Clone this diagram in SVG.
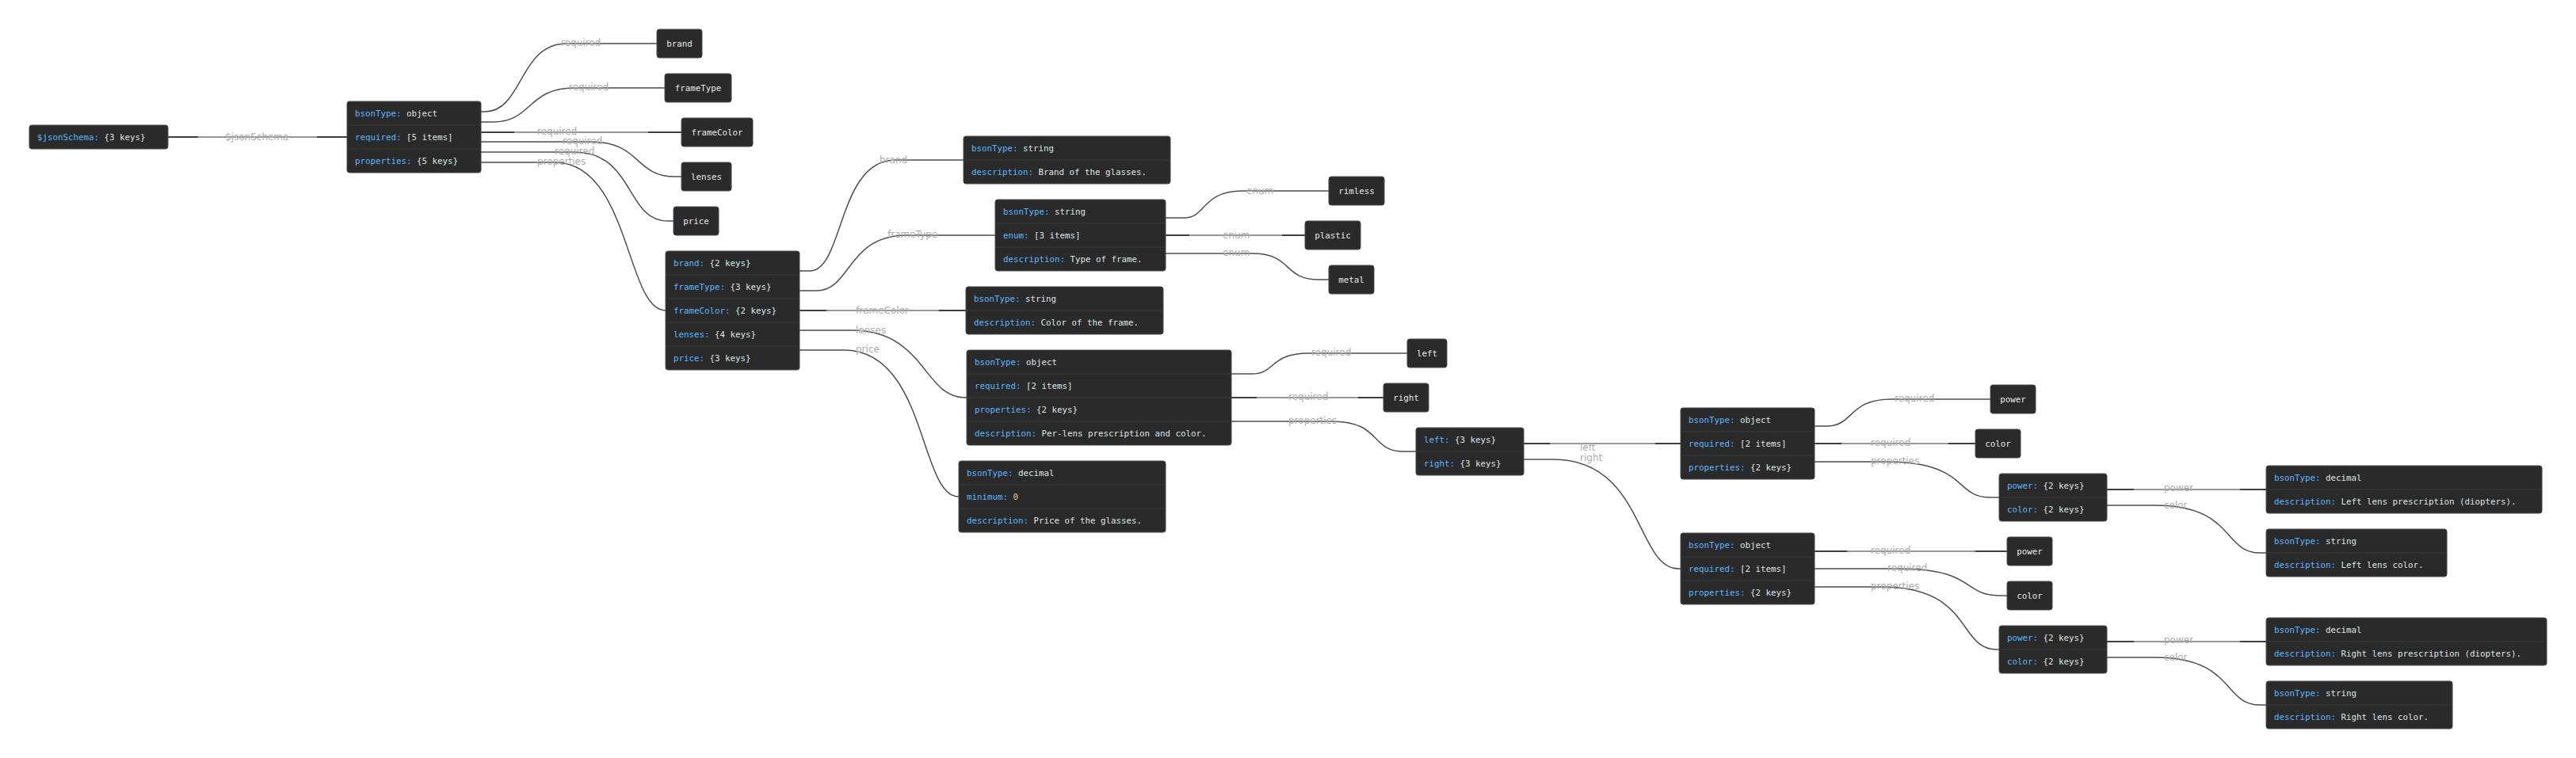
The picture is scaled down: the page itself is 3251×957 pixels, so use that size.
<svg xmlns="http://www.w3.org/2000/svg" width="3251" height="957" viewBox="0 0 3251 957">
<style>
.bg{fill:#ffffff}
.nd rect.b{fill:#2a2a2a;stroke:#4a4a4a;stroke-width:1}
.nd line{stroke:#383838;stroke-width:1}
.nd text{font-family:"DejaVu Sans Mono","Liberation Mono",monospace;font-size:10.8px;fill:#dce5e7;white-space:pre}
.nd text.c{text-anchor:middle;fill:#e8e8e8}
.k{fill:#59b8ff}
.num{fill:#e8c479}
.e{fill:none;stroke:#4f4f4f;stroke-width:1.5}
.sl{fill:none;stroke:#767676;stroke-width:1.6}
.sd{fill:none;stroke:#404040;stroke-width:2}
.lb{font-family:"DejaVu Sans","Liberation Sans",sans-serif;font-size:12px;fill:#acacac}
</style>
<rect class="bg" x="0" y="0" width="3251" height="957"/>

<g id="connectors">
  <!-- straight edges: light middle with dark ends -->
  <path class="sl" d="M212,173 H438"/><path class="sd" d="M212,173 H250 M400,173 H438"/>
  <path class="sl" d="M607,167 H860"/><path class="sd" d="M607,167 H649 M818,167 H860"/>
  <path class="sl" d="M1009,392 H1219"/><path class="sd" d="M1009,392 H1043 M1185,392 H1219"/>
  <path class="sl" d="M1471,297 H1647"/><path class="sd" d="M1471,297 H1501 M1618,297 H1647"/>
  <path class="sl" d="M1554,502 H1746"/><path class="sd" d="M1554,502 H1586 M1714,502 H1746"/>
  <path class="sl" d="M1923,560 H2121"/><path class="sd" d="M1923,560 H1956 M2089,560 H2121"/>
  <path class="sl" d="M2290,560 H2493"/><path class="sd" d="M2290,560 H2324 M2459,560 H2493"/>
  <path class="sl" d="M2290,696 H2533"/><path class="sd" d="M2290,696 H2331 M2493,696 H2533"/>
  <path class="sl" d="M2659,618 H2860"/><path class="sd" d="M2659,618 H2693 M2827,618 H2860"/>
  <path class="sl" d="M2659,810 H2860"/><path class="sd" d="M2659,810 H2693 M2827,810 H2860"/>
  <!-- curved edges -->
  <path class="e" d="M607,141 H612 C660,141 655,55 715,55 H829"/>
  <path class="e" d="M607,154 H622 C672,154 665,111 725,111 H839"/>
  <path class="e" d="M607,179 H745 C810,179 800,223 852,223 H860"/>
  <path class="e" d="M607,192 H725 C800,192 790,279 842,279 H850"/>
  <path class="e" d="M607,205 H700 C795,205 790,392 840,392"/>
  <path class="e" d="M1009,342 H1022 C1065,342 1057,202 1130,202 H1216"/>
  <path class="e" d="M1009,367 H1030 C1075,367 1068,297 1145,297 H1256"/>
  <path class="e" d="M1009,417 H1075 C1168,417 1165,502 1218,502 H1220"/>
  <path class="e" d="M1009,442 H1065 C1170,442 1160,627 1210,627"/>
  <path class="e" d="M1471,275 H1495 C1522,275 1517,241 1568,241 H1677"/>
  <path class="e" d="M1471,320 H1580 C1632,320 1618,353 1665,353 H1677"/>
  <path class="e" d="M1554,472 H1580 C1610,472 1602,446 1652,446 H1776"/>
  <path class="e" d="M1554,532 H1680 C1745,532 1728,570 1772,570 H1787"/>
  <path class="e" d="M1923,580 H1960 C2075,580 2065,718 2118,718 H2121"/>
  <path class="e" d="M2290,538 H2305 C2340,538 2332,504 2387,504 H2512"/>
  <path class="e" d="M2290,583 H2380 C2485,583 2465,628 2512,628 H2523"/>
  <path class="e" d="M2290,718 H2395 C2495,718 2475,752 2525,752 H2533"/>
  <path class="e" d="M2290,741 H2375 C2490,741 2470,820 2520,820 H2523"/>
  <path class="e" d="M2659,638 H2720 C2820,638 2805,698 2852,698 H2860"/>
  <path class="e" d="M2659,830 H2720 C2820,830 2805,890 2852,890 H2860"/>
  <!-- edge labels -->
  <text class="lb" x="284" y="176.5">$jsonSchema</text>
  <text class="lb" x="708" y="58">required</text>
  <text class="lb" x="718" y="114">required</text>
  <text class="lb" x="678" y="170">required</text>
  <text class="lb" x="710" y="182">required</text>
  <text class="lb" x="700" y="195">required</text>
  <text class="lb" x="678" y="208">properties</text>
  <text class="lb" x="1110" y="206">brand</text>
  <text class="lb" x="1120" y="300">frameType</text>
  <text class="lb" x="1080" y="396">frameColor</text>
  <text class="lb" x="1080" y="421">lenses</text>
  <text class="lb" x="1080" y="445">price</text>
  <text class="lb" x="1573" y="245">enum</text>
  <text class="lb" x="1543" y="301">enum</text>
  <text class="lb" x="1543" y="323">enum</text>
  <text class="lb" x="1655" y="449">required</text>
  <text class="lb" x="1626" y="505">required</text>
  <text class="lb" x="1626" y="535">properties</text>
  <text class="lb" x="1994" y="569">left</text>
  <text class="lb" x="1994" y="582">right</text>
  <text class="lb" x="2391" y="507">required</text>
  <text class="lb" x="2361" y="563">required</text>
  <text class="lb" x="2361" y="586">properties</text>
  <text class="lb" x="2361" y="699">required</text>
  <text class="lb" x="2382" y="721">required</text>
  <text class="lb" x="2361" y="744">properties</text>
  <text class="lb" x="2731" y="620">power</text>
  <text class="lb" x="2731" y="642">color</text>
  <text class="lb" x="2731" y="812">power</text>
  <text class="lb" x="2731" y="834">color</text>
</g>

<g id="node-jsonschema-root" class="nd">
  <rect class="b" x="37" y="158" width="175" height="30" rx="3"/>
  <text x="47" y="177"><tspan class="k">$jsonSchema:</tspan> {3 keys}</text>
</g>

<g id="node-schema" class="nd">
  <rect class="b" x="438" y="128" width="169" height="90" rx="3"/>
  <line x1="438" y1="158" x2="607" y2="158"/><line x1="438" y1="188" x2="607" y2="188"/>
  <text x="448" y="147"><tspan class="k">bsonType:</tspan> object</text>
  <text x="448" y="177"><tspan class="k">required:</tspan> [5 items]</text>
  <text x="448" y="207"><tspan class="k">properties:</tspan> {5 keys}</text>
</g>

<g id="node-req-brand" class="nd"><rect class="b" x="829" y="37" width="57" height="36" rx="3"/><text class="c" x="857.5" y="59">brand</text></g>
<g id="node-req-frameType" class="nd"><rect class="b" x="839" y="93" width="84" height="36" rx="3"/><text class="c" x="881" y="115">frameType</text></g>
<g id="node-req-frameColor" class="nd"><rect class="b" x="860" y="149" width="90" height="36" rx="3"/><text class="c" x="905" y="171">frameColor</text></g>
<g id="node-req-lenses" class="nd"><rect class="b" x="860" y="205" width="63" height="36" rx="3"/><text class="c" x="891.5" y="227">lenses</text></g>
<g id="node-req-price" class="nd"><rect class="b" x="850" y="261" width="57" height="36" rx="3"/><text class="c" x="878.5" y="283">price</text></g>

<g id="node-properties" class="nd">
  <rect class="b" x="840" y="317" width="169" height="150" rx="3"/>
  <line x1="840" y1="347" x2="1009" y2="347"/><line x1="840" y1="377" x2="1009" y2="377"/><line x1="840" y1="407" x2="1009" y2="407"/><line x1="840" y1="437" x2="1009" y2="437"/>
  <text x="850" y="336"><tspan class="k">brand:</tspan> {2 keys}</text>
  <text x="850" y="366"><tspan class="k">frameType:</tspan> {3 keys}</text>
  <text x="850" y="396"><tspan class="k">frameColor:</tspan> {2 keys}</text>
  <text x="850" y="426"><tspan class="k">lenses:</tspan> {4 keys}</text>
  <text x="850" y="456"><tspan class="k">price:</tspan> {3 keys}</text>
</g>

<g id="node-brand" class="nd">
  <rect class="b" x="1216" y="172" width="261" height="60" rx="3"/>
  <line x1="1216" y1="202" x2="1477" y2="202"/>
  <text x="1226" y="191"><tspan class="k">bsonType:</tspan> string</text>
  <text x="1226" y="221"><tspan class="k">description:</tspan> Brand of the glasses.</text>
</g>

<g id="node-frameType" class="nd">
  <rect class="b" x="1256" y="252" width="215" height="90" rx="3"/>
  <line x1="1256" y1="282" x2="1471" y2="282"/><line x1="1256" y1="312" x2="1471" y2="312"/>
  <text x="1266" y="271"><tspan class="k">bsonType:</tspan> string</text>
  <text x="1266" y="301"><tspan class="k">enum:</tspan> [3 items]</text>
  <text x="1266" y="331"><tspan class="k">description:</tspan> Type of frame.</text>
</g>

<g id="node-frameColor" class="nd">
  <rect class="b" x="1219" y="362" width="249" height="60" rx="3"/>
  <line x1="1219" y1="392" x2="1468" y2="392"/>
  <text x="1229" y="381"><tspan class="k">bsonType:</tspan> string</text>
  <text x="1229" y="411"><tspan class="k">description:</tspan> Color of the frame.</text>
</g>

<g id="node-lenses" class="nd">
  <rect class="b" x="1220" y="442" width="334" height="120" rx="3"/>
  <line x1="1220" y1="472" x2="1554" y2="472"/><line x1="1220" y1="502" x2="1554" y2="502"/><line x1="1220" y1="532" x2="1554" y2="532"/>
  <text x="1230" y="461"><tspan class="k">bsonType:</tspan> object</text>
  <text x="1230" y="491"><tspan class="k">required:</tspan> [2 items]</text>
  <text x="1230" y="521"><tspan class="k">properties:</tspan> {2 keys}</text>
  <text x="1230" y="551"><tspan class="k">description:</tspan> Per-lens prescription and color.</text>
</g>

<g id="node-price" class="nd">
  <rect class="b" x="1210" y="582" width="261" height="90" rx="3"/>
  <line x1="1210" y1="612" x2="1471" y2="612"/><line x1="1210" y1="642" x2="1471" y2="642"/>
  <text x="1220" y="601"><tspan class="k">bsonType:</tspan> decimal</text>
  <text x="1220" y="631"><tspan class="k">minimum:</tspan> <tspan class="num">0</tspan></text>
  <text x="1220" y="661"><tspan class="k">description:</tspan> Price of the glasses.</text>
</g>

<g id="node-enum-rimless" class="nd"><rect class="b" x="1677" y="223" width="70" height="36" rx="3"/><text class="c" x="1712" y="245">rimless</text></g>
<g id="node-enum-plastic" class="nd"><rect class="b" x="1647" y="279" width="70" height="36" rx="3"/><text class="c" x="1682" y="301">plastic</text></g>
<g id="node-enum-metal" class="nd"><rect class="b" x="1677" y="335" width="57" height="36" rx="3"/><text class="c" x="1705.5" y="357">metal</text></g>
<g id="node-req-left" class="nd"><rect class="b" x="1776" y="428" width="50" height="36" rx="3"/><text class="c" x="1801" y="450">left</text></g>
<g id="node-req-right" class="nd"><rect class="b" x="1746" y="484" width="57" height="36" rx="3"/><text class="c" x="1774.5" y="506">right</text></g>

<g id="node-lenses-properties" class="nd">
  <rect class="b" x="1787" y="540" width="136" height="60" rx="3"/>
  <line x1="1787" y1="570" x2="1923" y2="570"/>
  <text x="1797" y="559"><tspan class="k">left:</tspan> {3 keys}</text>
  <text x="1797" y="589"><tspan class="k">right:</tspan> {3 keys}</text>
</g>

<g id="node-left" class="nd">
  <rect class="b" x="2121" y="515" width="169" height="90" rx="3"/>
  <line x1="2121" y1="545" x2="2290" y2="545"/><line x1="2121" y1="575" x2="2290" y2="575"/>
  <text x="2131" y="534"><tspan class="k">bsonType:</tspan> object</text>
  <text x="2131" y="564"><tspan class="k">required:</tspan> [2 items]</text>
  <text x="2131" y="594"><tspan class="k">properties:</tspan> {2 keys}</text>
</g>

<g id="node-right" class="nd">
  <rect class="b" x="2121" y="673" width="169" height="90" rx="3"/>
  <line x1="2121" y1="703" x2="2290" y2="703"/><line x1="2121" y1="733" x2="2290" y2="733"/>
  <text x="2131" y="692"><tspan class="k">bsonType:</tspan> object</text>
  <text x="2131" y="722"><tspan class="k">required:</tspan> [2 items]</text>
  <text x="2131" y="752"><tspan class="k">properties:</tspan> {2 keys}</text>
</g>

<g id="node-left-req-power" class="nd"><rect class="b" x="2512" y="486" width="57" height="36" rx="3"/><text class="c" x="2540.5" y="508">power</text></g>
<g id="node-left-req-color" class="nd"><rect class="b" x="2493" y="542" width="57" height="36" rx="3"/><text class="c" x="2521.5" y="564">color</text></g>
<g id="node-right-req-power" class="nd"><rect class="b" x="2533" y="678" width="57" height="36" rx="3"/><text class="c" x="2561.5" y="700">power</text></g>
<g id="node-right-req-color" class="nd"><rect class="b" x="2533" y="734" width="57" height="36" rx="3"/><text class="c" x="2561.5" y="756">color</text></g>

<g id="node-left-properties" class="nd">
  <rect class="b" x="2523" y="598" width="136" height="60" rx="3"/>
  <line x1="2523" y1="628" x2="2659" y2="628"/>
  <text x="2533" y="617"><tspan class="k">power:</tspan> {2 keys}</text>
  <text x="2533" y="647"><tspan class="k">color:</tspan> {2 keys}</text>
</g>

<g id="node-right-properties" class="nd">
  <rect class="b" x="2523" y="790" width="136" height="60" rx="3"/>
  <line x1="2523" y1="820" x2="2659" y2="820"/>
  <text x="2533" y="809"><tspan class="k">power:</tspan> {2 keys}</text>
  <text x="2533" y="839"><tspan class="k">color:</tspan> {2 keys}</text>
</g>

<g id="node-left-power" class="nd">
  <rect class="b" x="2860" y="588" width="348" height="60" rx="3"/>
  <line x1="2860" y1="618" x2="3208" y2="618"/>
  <text x="2870" y="607"><tspan class="k">bsonType:</tspan> decimal</text>
  <text x="2870" y="637"><tspan class="k">description:</tspan> Left lens prescription (diopters).</text>
</g>

<g id="node-left-color" class="nd">
  <rect class="b" x="2860" y="668" width="228" height="60" rx="3"/>
  <line x1="2860" y1="698" x2="3088" y2="698"/>
  <text x="2870" y="687"><tspan class="k">bsonType:</tspan> string</text>
  <text x="2870" y="717"><tspan class="k">description:</tspan> Left lens color.</text>
</g>

<g id="node-right-power" class="nd">
  <rect class="b" x="2860" y="780" width="354" height="60" rx="3"/>
  <line x1="2860" y1="810" x2="3214" y2="810"/>
  <text x="2870" y="799"><tspan class="k">bsonType:</tspan> decimal</text>
  <text x="2870" y="829"><tspan class="k">description:</tspan> Right lens prescription (diopters).</text>
</g>

<g id="node-right-color" class="nd">
  <rect class="b" x="2860" y="860" width="235" height="60" rx="3"/>
  <line x1="2860" y1="890" x2="3095" y2="890"/>
  <text x="2870" y="879"><tspan class="k">bsonType:</tspan> string</text>
  <text x="2870" y="909"><tspan class="k">description:</tspan> Right lens color.</text>
</g>
</svg>
